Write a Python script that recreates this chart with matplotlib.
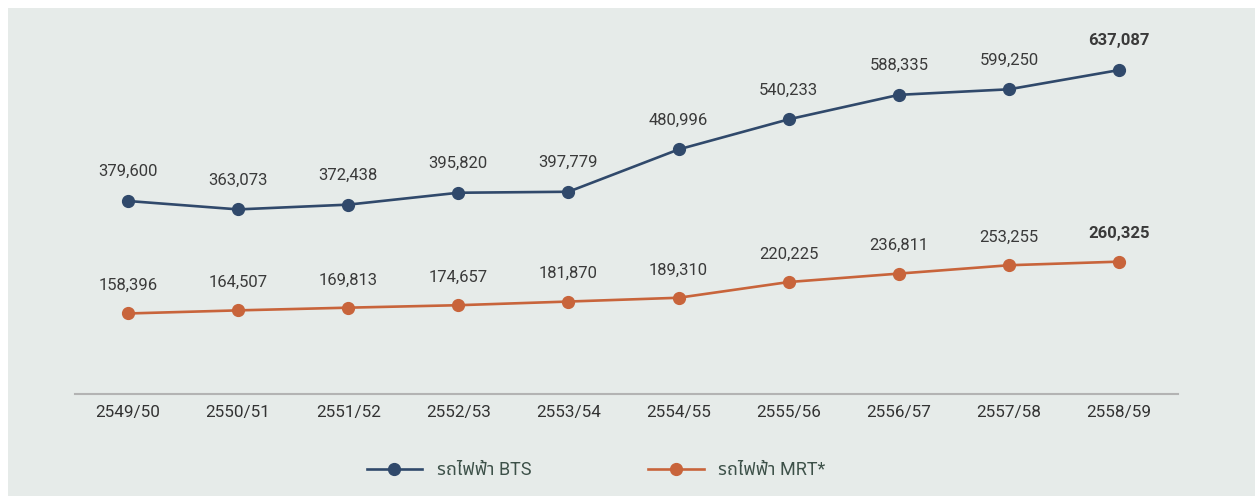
import matplotlib.pyplot as plt
from matplotlib.patches import Rectangle

# data
years = ["2549/50", "2550/51", "2551/52", "2552/53", "2553/54",
         "2554/55", "2555/56", "2556/57", "2557/58", "2558/59"]
bts = [379600, 363073, 372438, 395820, 397779, 480996, 540233, 588335, 599250, 637087]
mrt = [158396, 164507, 169813, 174657, 181870, 189310, 220225, 236811, 253255, 260325]

plt.rcParams['font.family'] = ['Roboto', 'Noto Sans Thai', 'Noto Sans', 'DejaVu Sans']

bg = "#e6ebe9"
c_bts = "#30496b"
c_mrt = "#c8643b"
txt = "#3a3a3a"

fig = plt.figure(figsize=(12.55, 4.96), dpi=100)
fig.patch.set_facecolor("white")
fig.patches.append(Rectangle((8 / 1255, 0), 1, 1 - 8 / 496, transform=fig.transFigure,
                             facecolor=bg, edgecolor="none", zorder=-10))

ax = fig.add_axes([0.0598, 0.2056, 0.8789, 0.7238])
ax.set_facecolor("none")
ax.set_zorder(5)
x = list(range(len(years)))

ax.plot(x, bts, color=c_bts, lw=1.9, marker="o", ms=8.5, label="รถไฟฟ้า BTS")
ax.plot(x, mrt, color=c_mrt, lw=1.9, marker="o", ms=8.5, label="รถไฟฟ้า MRT*")

for i in x:
    last = i == len(x) - 1
    ax.annotate(f"{bts[i]:,}", (i, bts[i]), xytext=(0, 21), textcoords="offset points",
                ha="center", va="center", fontsize=12, color=txt,
                fontweight="bold" if last else "normal")
    ax.annotate(f"{mrt[i]:,}", (i, mrt[i]), xytext=(0, 20), textcoords="offset points",
                ha="center", va="center", fontsize=12, color=txt,
                fontweight="bold" if last else "normal")

ax.set_xlim(-0.481, 9.536)
ax.set_ylim(0, 706000)
ax.set_xticks(x)
ax.set_xticklabels(years, fontsize=12.3, color="#333333")
ax.set_yticks([])
for s in ["left", "right", "top"]:
    ax.spines[s].set_visible(False)
ax.spines["bottom"].set_color("#b3b3b3")
ax.spines["bottom"].set_linewidth(1.5)
ax.tick_params(axis="x", length=0, pad=8)

leg = fig.legend(loc="center", bbox_to_anchor=(0.475, 0.052), ncol=2, frameon=False,
                 fontsize=13, handlelength=3.05, columnspacing=6.5, handletextpad=0.83)
for t in leg.get_texts():
    t.set_color("#3d5149")

fig.savefig("out.png", dpi=100, facecolor=fig.get_facecolor())
